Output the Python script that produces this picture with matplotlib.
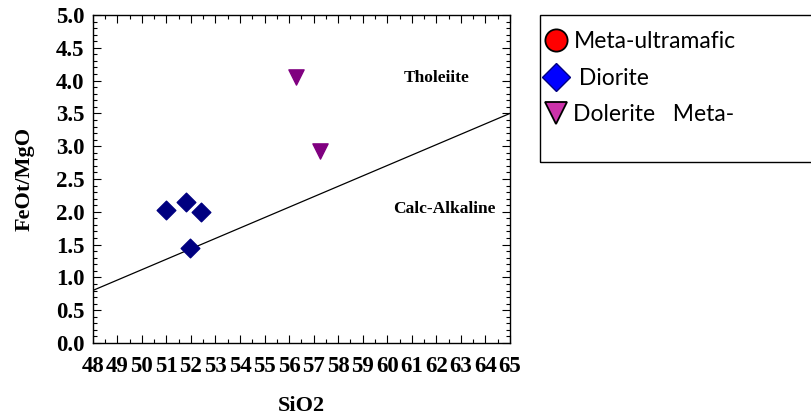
""" FeOt/MgO vs SiO2 discrimination plot """

import numpy as np
import matplotlib
matplotlib.use('Agg')
import matplotlib.pyplot as plt
from matplotlib.ticker import MultipleLocator, FormatStrFormatter
from matplotlib.lines import Line2D

#%% data
diorite_sio2 = [51.0, 51.8, 52.4, 51.95]
diorite_ratio = [2.03, 2.15, 1.99, 1.45]
dolerite_sio2 = [56.3, 57.25]
dolerite_ratio = [4.05, 2.93]
divide_sio2 = [48, 65]
divide_ratio = [0.8, 3.5]
x_ticks = list(range(48, 66))
legend_names = ['Meta-ultramafic', ' Diorite', 'Dolerite   Meta-']

#%% plot
plt.rcParams['font.family'] = 'Liberation Serif'
plt.rcParams['font.weight'] = 'bold'
plt.rcParams['axes.labelweight'] = 'bold'

fig = plt.figure(figsize=(8.12, 4.15), dpi=100)
ax = fig.add_axes([92.7/812, 1-343/415, (510-92.7)/812, (343-15)/415])

ax.plot(divide_sio2, divide_ratio, color='k', lw=0.9)
ax.scatter(diorite_sio2, diorite_ratio, marker='D', s=90, color='#000080', zorder=3)
ax.scatter(dolerite_sio2, dolerite_ratio, marker='v', s=120, color='#800080', zorder=3)

ax.text(62.0, 4.04, 'Tholeiite', fontsize=12.5, ha='center', va='center')
ax.text(64.4, 2.04, 'Calc-Alkaline', fontsize=12.5, ha='right', va='center')

ax.set_xlim(48, 65)
ax.set_ylim(0, 5)
ax.set_xticks(x_ticks)
ax.set_xticklabels([str(v) for v in x_ticks])
ax.xaxis.set_minor_locator(MultipleLocator(0.5))
ax.yaxis.set_major_locator(MultipleLocator(0.5))
ax.yaxis.set_minor_locator(MultipleLocator(0.1))
ax.yaxis.set_major_formatter(FormatStrFormatter('%.1f'))
ax.tick_params(which='both', direction='in', top=True, right=True, width=0.8)
ax.tick_params(which='major', length=6, labelsize=16.5)
ax.tick_params(which='minor', length=3)
ax.tick_params(axis='x', which='major', pad=9)
ax.tick_params(axis='y', which='major', pad=6)
for sp in ax.spines.values():
    sp.set_linewidth(1.0)

ax.set_xlabel('SiO2', fontsize=16, labelpad=14)
ax.set_ylabel('FeOt/MgO', fontsize=16, labelpad=15)

#%% legend box
box = plt.Rectangle((540/812, 1-162/415), 300/812, 147/415, transform=fig.transFigure,
                    fill=False, edgecolor='k', lw=1.0)
fig.add_artist(box)
handles = [Line2D([], [], ls='', marker='o', ms=16, mfc='#ff0000', mec='k', mew=1.3),
           Line2D([], [], ls='', marker='D', ms=14, mfc='#0000ff', mec='#000080', mew=1.0),
           Line2D([], [], ls='', marker='v', ms=16, mfc='#cc33aa', mec='k', mew=1.3)]
fig.legend(handles, legend_names, loc='upper left', bbox_to_anchor=(546/812, 1-31/415),
           frameon=False, prop={'family': 'Lato', 'size': 16.5, 'weight': 'normal'},
           handlelength=0.9, handletextpad=0.3, labelspacing=0.68, borderpad=0,
           borderaxespad=0)

plt.savefig('out.png', dpi=100)
